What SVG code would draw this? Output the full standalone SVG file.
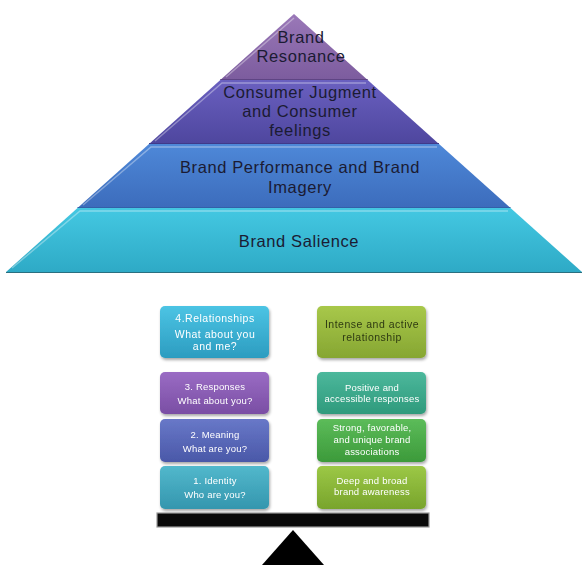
<svg xmlns="http://www.w3.org/2000/svg" width="585" height="565" viewBox="0 0 585 565">
  <defs>
    <linearGradient id="gRes" x1="0" y1="0" x2="0" y2="1">
      <stop offset="0" stop-color="#9a78b8"/>
      <stop offset="1" stop-color="#7c5c9e"/>
    </linearGradient>
    <linearGradient id="gJud" x1="0" y1="0" x2="0" y2="1">
      <stop offset="0" stop-color="#6a60c0"/>
      <stop offset="1" stop-color="#4e469e"/>
    </linearGradient>
    <linearGradient id="gPer" x1="0" y1="0" x2="0" y2="1">
      <stop offset="0" stop-color="#4e88d8"/>
      <stop offset="1" stop-color="#3c6cbc"/>
    </linearGradient>
    <linearGradient id="gSal" x1="0" y1="0" x2="0" y2="1">
      <stop offset="0" stop-color="#44c8e2"/>
      <stop offset="1" stop-color="#2eaac6"/>
    </linearGradient>
    <linearGradient id="bCyan" x1="0" y1="0" x2="0" y2="1">
      <stop offset="0" stop-color="#4cc4e4"/>
      <stop offset="1" stop-color="#2c9cc0"/>
    </linearGradient>
    <linearGradient id="bOlive" x1="0" y1="0" x2="0" y2="1">
      <stop offset="0" stop-color="#a8c84a"/>
      <stop offset="1" stop-color="#86a632"/>
    </linearGradient>
    <linearGradient id="bPurple" x1="0" y1="0" x2="0" y2="1">
      <stop offset="0" stop-color="#9a6cc4"/>
      <stop offset="1" stop-color="#7a4ea4"/>
    </linearGradient>
    <linearGradient id="bTeal" x1="0" y1="0" x2="0" y2="1">
      <stop offset="0" stop-color="#4cb89c"/>
      <stop offset="1" stop-color="#2f9a7c"/>
    </linearGradient>
    <linearGradient id="bSlate" x1="0" y1="0" x2="0" y2="1">
      <stop offset="0" stop-color="#6878c8"/>
      <stop offset="1" stop-color="#4a58a8"/>
    </linearGradient>
    <linearGradient id="bGreen" x1="0" y1="0" x2="0" y2="1">
      <stop offset="0" stop-color="#5cbc5a"/>
      <stop offset="1" stop-color="#3c9a3a"/>
    </linearGradient>
    <linearGradient id="bAqua" x1="0" y1="0" x2="0" y2="1">
      <stop offset="0" stop-color="#52b8cc"/>
      <stop offset="1" stop-color="#3496ae"/>
    </linearGradient>
    <linearGradient id="bLime" x1="0" y1="0" x2="0" y2="1">
      <stop offset="0" stop-color="#9cc846"/>
      <stop offset="1" stop-color="#78a42c"/>
    </linearGradient>
    <filter id="shadow" x="-10%" y="-10%" width="130%" height="130%">
      <feGaussianBlur in="SourceAlpha" stdDeviation="1.5"/>
      <feOffset dx="1" dy="2" result="b"/>
      <feComponentTransfer><feFuncA type="linear" slope="0.35"/></feComponentTransfer>
      <feMerge><feMergeNode/><feMergeNode in="SourceGraphic"/></feMerge>
    </filter>
  </defs>
  <style>
    .lvl { stroke: none; }
    .bevel { fill: none; stroke: #ffffff; stroke-opacity: 0.35; stroke-width: 1.5; }
    .ptxt { font-family: "Liberation Sans", Arial, sans-serif; font-size: 16.5px; letter-spacing: 0.6px; fill: #1b1b33; text-anchor: middle; }
    .box { stroke: none; }
    .btxt { font-family: "Liberation Sans", Arial, sans-serif; font-size: 10.5px; letter-spacing: 0.5px; fill: #ffffff; text-anchor: middle; }
    .rtxt { font-family: "Liberation Sans", Arial, sans-serif; font-size: 9.5px; letter-spacing: 0.2px; fill: #ffffff; text-anchor: middle; }
    .dark { fill: #2e3a12; }
  </style>

  <rect width="585" height="565" fill="#ffffff"/>

  <!-- Pyramid -->
  <g id="pyramid">
    <g id="level-salience">
      <polygon class="lvl" points="77.5,208 510.5,208 582,272 6,272" fill="url(#gSal)"/>
      <polyline class="bevel" points="12,268 80,211 508,211"/>
      <line x1="6" y1="272.5" x2="582" y2="272.5" stroke="#2a6f80" stroke-width="1.2"/>
      <text class="ptxt" x="299" y="247">Brand Salience</text>
    </g>
    <g id="level-performance">
      <polygon class="lvl" points="149,144 439,144 510.5,208 77.5,208" fill="url(#gPer)"/>
      <polyline class="bevel" points="83,205 151,147 437,147"/>
      <line x1="77.5" y1="207.5" x2="510.5" y2="207.5" stroke="#3360a8" stroke-width="1"/>
      <text class="ptxt" x="300" y="173">Brand Performance and Brand</text>
      <text class="ptxt" x="300" y="193">Imagery</text>
    </g>
    <g id="level-judgment">
      <polygon class="lvl" points="220.3,80 367.7,80 439,144 149,144" fill="url(#gJud)"/>
      <polyline class="bevel" points="155,141 222,83 366,83"/>
      <line x1="149" y1="143.5" x2="439" y2="143.5" stroke="#3f3a8a" stroke-width="1"/>
      <text class="ptxt" x="300" y="98">Consumer Jugment</text>
      <text class="ptxt" x="300" y="117">and Consumer</text>
      <text class="ptxt" x="300" y="136">feelings</text>
    </g>
    <g id="level-resonance">
      <polygon class="lvl" points="294,14 367.7,80 220.3,80" fill="url(#gRes)"/>
      <polyline class="bevel" points="226,77 294,18"/>
      <line x1="220.3" y1="79.5" x2="367.7" y2="79.5" stroke="#5e4484" stroke-width="1"/>
      <text class="ptxt" x="301" y="43">Brand</text>
      <text class="ptxt" x="301" y="62">Resonance</text>
    </g>
  </g>

  <!-- Left column: stages -->
  <g id="stage-relationships" filter="url(#shadow)">
    <rect class="box" x="160" y="306" width="109" height="52" rx="5" fill="url(#bCyan)"/>
    <text class="btxt" x="215" y="322">4.Relationships</text>
    <text class="btxt" x="215" y="338">What about you</text>
    <text class="btxt" x="215" y="350">and me?</text>
  </g>
  <g id="stage-responses" filter="url(#shadow)">
    <rect class="box" x="160" y="372" width="109" height="42" rx="5" fill="url(#bPurple)"/>
    <text class="rtxt" x="215" y="390">3. Responses</text>
    <text class="rtxt" x="215" y="404">What about you?</text>
  </g>
  <g id="stage-meaning" filter="url(#shadow)">
    <rect class="box" x="160" y="419" width="109" height="43" rx="5" fill="url(#bSlate)"/>
    <text class="rtxt" x="215" y="438">2. Meaning</text>
    <text class="rtxt" x="215" y="452">What are you?</text>
  </g>
  <g id="stage-identity" filter="url(#shadow)">
    <rect class="box" x="160" y="466" width="109" height="43" rx="5" fill="url(#bAqua)"/>
    <text class="rtxt" x="215" y="484">1. Identity</text>
    <text class="rtxt" x="215" y="498">Who are you?</text>
  </g>

  <!-- Right column: outcomes -->
  <g id="outcome-relationship" filter="url(#shadow)">
    <rect class="box" x="317" y="306" width="109" height="52" rx="5" fill="url(#bOlive)"/>
    <text class="btxt dark" x="372" y="328">Intense and active</text>
    <text class="btxt dark" x="372" y="341">relationship</text>
  </g>
  <g id="outcome-responses" filter="url(#shadow)">
    <rect class="box" x="317" y="372" width="109" height="42" rx="5" fill="url(#bTeal)"/>
    <text class="rtxt" x="372" y="391">Positive and</text>
    <text class="rtxt" x="372" y="402">accessible responses</text>
  </g>
  <g id="outcome-associations" filter="url(#shadow)">
    <rect class="box" x="317" y="419" width="109" height="43" rx="5" fill="url(#bGreen)"/>
    <text class="rtxt" x="372" y="431">Strong, favorable,</text>
    <text class="rtxt" x="372" y="443">and unique brand</text>
    <text class="rtxt" x="372" y="455">associations</text>
  </g>
  <g id="outcome-awareness" filter="url(#shadow)">
    <rect class="box" x="317" y="466" width="109" height="43" rx="5" fill="url(#bLime)"/>
    <text class="rtxt" x="372" y="484">Deep and broad</text>
    <text class="rtxt" x="372" y="495">brand awareness</text>
  </g>

  <!-- Balance beam and fulcrum -->
  <g id="balance">
    <rect x="157" y="513" width="272" height="14" fill="#0a0a0a" stroke="#9a9a9a" stroke-width="1.2"/>
    <polygon points="293,530 324,565 262,565" fill="#000000"/>
  </g>
</svg>
